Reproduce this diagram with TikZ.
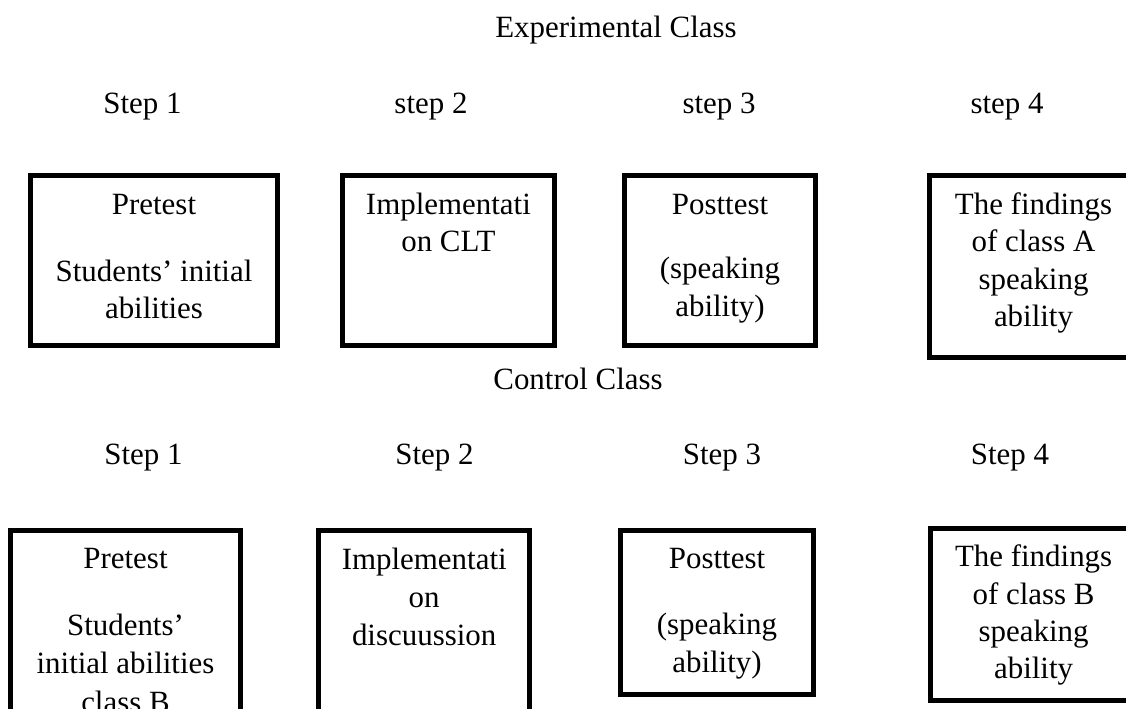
\documentclass[tikz,border=0pt]{standalone}
\usepackage{fontspec}
\setmainfont{Liberation Serif}
\newcommand{\stepcontent}[3]{\parbox[c][#2][t]{#1}{\centering\vspace*{2.45mm}\strut#3}}
\tikzset{
    stepbox/.style={draw, line width=1mm, inner sep=0pt},
    steplabel/.style={anchor=base, inner sep=0pt}
}
\begin{document}
\begin{tikzpicture}[x=0.2mm, y=-0.2mm, font=\fontsize{17.6pt}{21.3pt}\selectfont]
                \useasboundingbox (0,0) rectangle (1126,708);
                \clip (0,0) rectangle (1126,708);
                \node[steplabel] (expTitle) at (616,37) {Experimental Class};
                \node[steplabel] (expStepA) at (142.5,113) {Step 1};
                \node[steplabel] (expStepB) at (431,113) {step 2};
                \node[steplabel] (expStepC) at (719,113) {step 3};
                \node[steplabel] (expStepD) at (1007,113) {step 4};
                \node[stepbox] (expA) at (154,260.8) {
                    \stepcontent{49.4mm}{34mm}{Pretest\\[5.9mm]Students' initial\\abilities}
                };
                \node[stepbox] (expB) at (448.4,260.8) {
                    \stepcontent{42.3mm}{34mm}{Implementati\\on CLT}
                };
                \node[stepbox] (expC) at (720,260.8) {
                    \stepcontent{38.3mm}{34mm}{Posttest\\[5.4mm](speaking\\ability)}
                };
                \node[stepbox] (expD) at (1033.5,266.7) {
                    \stepcontent{41.5mm}{36.3mm}{The findings\\of class A\\speaking\\ability}
                };
                \node[steplabel] (ctrlTitle) at (578,389) {Control Class};
                \node[steplabel] (ctrlStepA) at (143.5,464) {Step 1};
                \node[steplabel] (ctrlStepB) at (434.5,464) {Step 2};
                \node[steplabel] (ctrlStepC) at (722,464) {Step 3};
                \node[steplabel] (ctrlStepD) at (1010,464) {Step 4};
                \node[stepbox] (ctrlA) at (125.5,637.6) {
                    \stepcontent{45.9mm}{43mm}{Pretest\\[5.9mm]Students'\\[0.2mm]initial abilities\\[0.2mm]class B}
                };
                \node[stepbox] (ctrlB) at (424.2,637.8) {
                    \stepcontent{42.3mm}{42.9mm}{Implementati\\[0.2mm]on\\[0.2mm]discuussion}
                };
                \node[stepbox] (ctrlC) at (717,612.5) {
                    \stepcontent{38.5mm}{32.9mm}{Posttest\\[5.7mm](speaking\\ability)}
                };
                \node[stepbox] (ctrlD) at (1033.6,614.2) {
                    \stepcontent{41.4mm}{34.4mm}{The findings\\of class B\\speaking\\ability}
                };
            \end{tikzpicture}
\end{document}
